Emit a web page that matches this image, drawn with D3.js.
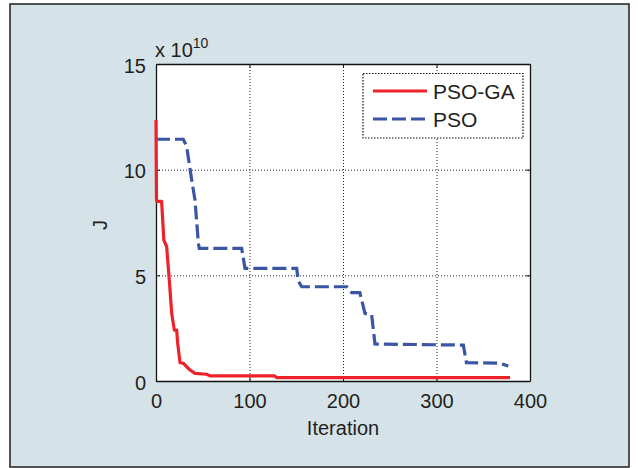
<!DOCTYPE html>
<html>
<head>
<meta charset="utf-8">
<script src="https://cdn.jsdelivr.net/npm/d3@7"></script>
<style>
  html, body { margin: 0; padding: 0; background: #ffffff; }
  svg { display: block; }
  text { font-family: "Liberation Sans", Arial, Helvetica, sans-serif; fill: #231f20; }
</style>
</head>
<body>
<svg id="chart" width="638" height="468"></svg>
<script>
// Convergence of the cost J (in units of 1e10) versus iteration
const psoGaIter = [0, 0.5, 1, 6, 8.4, 11.4, 14.2, 16.8, 19.6, 22.1, 23.2, 25.7, 29.2, 36.4, 41.7, 54, 57.8, 127, 129, 378.6];
const psoGaJ    = [12.35, 8.6, 8.5, 8.5, 6.67, 6.36, 4.78, 3.2, 2.41, 2.41, 1.78, 0.87, 0.84, 0.52, 0.36, 0.32, 0.24, 0.24, 0.16, 0.16];

const psoIter = [0, 29.2, 32.8, 38.2, 41.7, 45.3, 46.3, 91.6, 95.2, 150.5, 152, 155.8, 204, 209.3, 218, 223.5, 230.7, 234.2, 328.7, 332, 367.9, 376.8];
const psoJ    = [11.44, 11.44, 11.09, 9.51, 8.56, 6.52, 6.28, 6.28, 5.33, 5.33, 4.75, 4.46, 4.46, 4.18, 4.18, 3.2, 3.12, 1.75, 1.70, 0.87, 0.84, 0.71];

const xTicks = [0, 100, 200, 300, 400];
const yTicks = [0, 5, 10, 15];
const seriesNames = ["PSO-GA", "PSO"];

const svg = d3.select("#chart");

// figure panel
svg.append("rect")
  .attr("x", 10).attr("y", 4).attr("width", 619).attr("height", 463)
  .attr("fill", "#d5e3e9").attr("stroke", "#2b2b2b").attr("stroke-width", 1.6);

const plot = { left: 156, right: 530, top: 64, bottom: 381 };
const x = d3.scaleLinear().domain([0, 400]).range([plot.left, plot.right]);
const y = d3.scaleLinear().domain([0, 15]).range([plot.bottom, plot.top]);

svg.append("rect")
  .attr("x", plot.left).attr("y", plot.top)
  .attr("width", plot.right - plot.left).attr("height", plot.bottom - plot.top)
  .attr("fill", "#ffffff");

// dotted grid
const grid = svg.append("g").attr("stroke", "#222").attr("stroke-width", 1).attr("stroke-dasharray", "1,2");
grid.selectAll(".gx").data(xTicks.slice(1, -1)).join("line")
  .attr("x1", d => x(d) + 0.5).attr("x2", d => x(d) + 0.5)
  .attr("y1", plot.top).attr("y2", plot.bottom);
grid.selectAll(".gy").data(yTicks.slice(1, -1)).join("line")
  .attr("y1", d => y(d) + 0.5).attr("y2", d => y(d) + 0.5)
  .attr("x1", plot.left).attr("x2", plot.right);

// axes with inward ticks
const xAxis = svg.append("g").attr("transform", `translate(0,${plot.bottom})`)
  .call(d3.axisBottom(x).tickValues(xTicks).tickSizeInner(-4).tickSizeOuter(0).tickPadding(12));
const yAxis = svg.append("g").attr("transform", `translate(${plot.left},0)`)
  .call(d3.axisLeft(y).tickValues(yTicks).tickSizeInner(-4).tickSizeOuter(0).tickPadding(10));
const xTop = svg.append("g").attr("transform", `translate(0,${plot.top})`)
  .call(d3.axisTop(x).tickValues(xTicks).tickSizeInner(-4).tickSizeOuter(0).tickFormat(""));
const yRight = svg.append("g").attr("transform", `translate(${plot.right},0)`)
  .call(d3.axisRight(y).tickValues(yTicks).tickSizeInner(-4).tickSizeOuter(0).tickFormat(""));

[xAxis, yAxis, xTop, yRight].forEach(g => {
  g.select(".domain").attr("stroke", "#111").attr("stroke-width", 1.3);
  g.selectAll(".tick line").attr("stroke", "#111");
  g.selectAll("text").attr("font-size", 20).attr("fill", "#231f20")
    .attr("font-family", "Liberation Sans, Arial, sans-serif");
});
xAxis.selectAll("text").attr("dy", "0.75em");
yAxis.selectAll("text").attr("dy", "0.4em");

// series
const line = d3.line().x(d => x(d[0])).y(d => y(d[1]));
const psoData = psoIter.map((v, i) => [v, psoJ[i]]);
const gaData = psoGaIter.map((v, i) => [v, psoGaJ[i]]);

svg.append("path").datum(psoData).attr("d", line)
  .attr("fill", "none").attr("stroke", "#3a55a4").attr("stroke-width", 3.2)
  .attr("stroke-dasharray", "14,5");
svg.append("path").datum(gaData).attr("d", line)
  .attr("fill", "none").attr("stroke", "#ee2229").attr("stroke-width", 3.2)
  .attr("stroke-linejoin", "round");

// exponent label
const expo = svg.append("text").attr("x", 155).attr("y", 57).attr("font-size", 20);
expo.append("tspan").text("x 10");
expo.append("tspan").attr("dy", -9).attr("font-size", 14).text("10");

// axis titles
svg.append("text").attr("x", 343).attr("y", 435).attr("text-anchor", "middle")
  .attr("font-size", 20).text("Iteration");
svg.append("text").attr("transform", "translate(107,225) rotate(-90)")
  .attr("text-anchor", "middle").attr("font-size", 20).text("J");

// legend
const lg = svg.append("g");
lg.append("rect").attr("x", 363).attr("y", 73.5).attr("width", 160).attr("height", 64.5)
  .attr("fill", "#ffffff").attr("stroke", "#111").attr("stroke-width", 1.2)
  .attr("stroke-dasharray", "1.5,1.5");
const legendItems = [
  { name: seriesNames[0], color: "#ee2229", dash: null, y: 91 },
  { name: seriesNames[1], color: "#3a55a4", dash: "14,5", y: 119 }
];
legendItems.forEach(it => {
  lg.append("line").attr("x1", 373).attr("x2", 427).attr("y1", it.y).attr("y2", it.y)
    .attr("stroke", it.color).attr("stroke-width", 3.2)
    .attr("stroke-dasharray", it.dash);
  lg.append("text").attr("x", 433).attr("y", it.y + 7.5).attr("font-size", 21).text(it.name);
});
</script>
</body>
</html>
